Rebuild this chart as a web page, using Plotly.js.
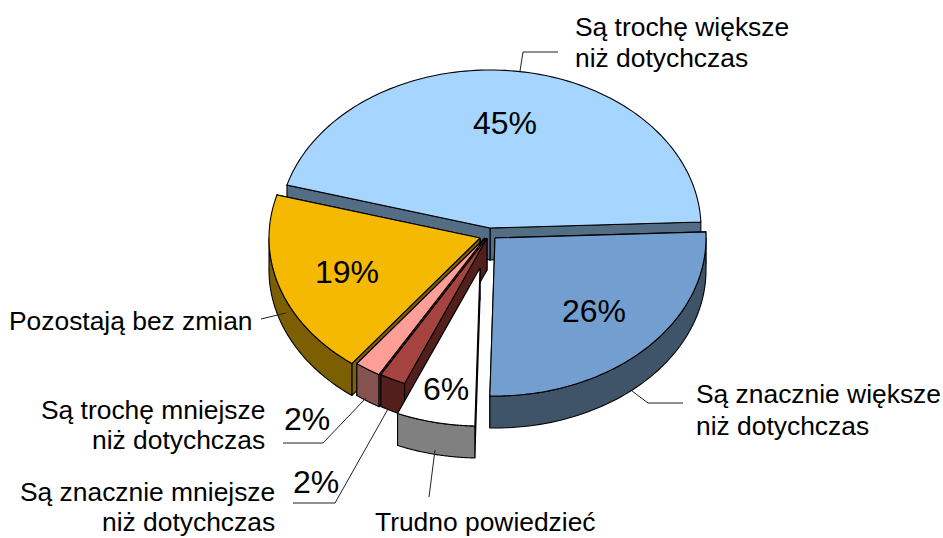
<!DOCTYPE html>
<html>
<head>
<meta charset="utf-8">
<script src="https://cdn.plot.ly/plotly-3.0.1.min.js"></script>
<style>html,body{margin:0;padding:0;background:#fff}#chart{width:943px;height:538px}</style>
</head>
<body>
<div id="chart"></div>
<script>
// Data (clockwise from the first slice)
const categories = ["Są trochę większe niż dotychczas","Są znacznie większe niż dotychczas","Trudno powiedzieć","Są znacznie mniejsze niż dotychczas","Są trochę mniejsze niż dotychczas","Pozostają bez zmian"];
const shares = [45, 26, 6, 2, 2, 19];
const percentLabels = ["45%","26%","6%","2%","2%","19%"];

// Styling / projection
const topColors  = ["#A6D5FF","#729FCF","#FFFFFF","#A5433F","#FF9E96","#F4B900"];
const wallColors = ["#536D85","#3F5469","#808080","#521F1D","#855350","#7B5F00"];
const apexX = [490, 495, 480, 487, 485, 480];
const apexY = [228, 238, 268, 238, 238, 238];
const percentX = [505, 594, 446, 316, 307, 347];
const percentY = [123, 311, 389, 482, 419, 272];
const drawOrder = [0, 5, 4, 3, 1, 2];
const startAngle = 285.8, radiusX = 211, radiusY = 158, depth = 32;

const textLines = [
  ["Są trochę większe", 575, 27, "left"], ["niż dotychczas", 575, 58, "left"],
  ["Są znacznie większe", 696, 394, "left"], ["niż dotychczas", 696, 426, "left"],
  ["Pozostają bez zmian", 253, 321, "right"],
  ["Są trochę mniejsze", 265, 410, "right"], ["niż dotychczas", 265, 440, "right"],
  ["Są znacznie mniejsze", 275, 492, "right"], ["niż dotychczas", 275, 522, "right"],
  ["Trudno powiedzieć", 375, 522, "left"]
];
const leaders = [
  [[520,71],[523,52],[558,52]],
  [[632,391],[648,403],[683,403]],
  [[286,313],[261,319]],
  [[366,398],[323,443],[283,443]],
  [[388,409],[335,503],[293,503]],
  [[435,450],[429,497]]
];

const total = shares.reduce((a,b)=>a+b,0);
const rad = d => d*Math.PI/180;
const px = (i,t) => apexX[i] + radiusX*Math.sin(rad(t));
const py = (i,t) => apexY[i] - radiusY*Math.cos(rad(t));

function poly(xs, ys, fill, name) {
  return {type:"scatter", mode:"lines", x:xs.concat(xs[0]), y:ys.concat(ys[0]), fill:"toself",
    fillcolor:fill, line:{color:"#000", width:1.1, simplify:false}, hoverinfo:"text", text:name, showlegend:false};
}

const bounds = [];
let acc = startAngle;
shares.forEach(v => { const s = acc; acc += v/total*360; bounds.push([s, acc]); });

const traces = [];
drawOrder.forEach(i => {
  const [t1, t2] = bounds[i];
  const wall = wallColors[i], name = categories[i];
  // radial cut walls
  [t2, t1].forEach(t => {
    traces.push(poly([apexX[i], px(i,t), px(i,t), apexX[i]],
                     [apexY[i], py(i,t), py(i,t)+depth, apexY[i]+depth], wall, name));
  });
  // outer rim wall: only the front half of the ellipse is visible
  const from = Math.max(t1 % 360, 90), to = Math.min(t2 > 360 && t1 < 360 ? 90 : t2 % 360 || 360, 270);
  if (to > from) {
    const ax = [], ay = [], bx = [], by = [];
    for (let k = 0; k <= 60; k++) {
      const t = from + (to-from)*k/60;
      ax.push(px(i,t)); ay.push(py(i,t));
      bx.unshift(px(i,t)); by.unshift(py(i,t)+depth);
    }
    traces.push(poly(ax.concat(bx), ay.concat(by), wall, name));
  }
  // top face
  const xs = [apexX[i]], ys = [apexY[i]];
  for (let k = 0; k <= 120; k++) {
    const t = t1 + (t2-t1)*k/120;
    xs.push(px(i,t)); ys.push(py(i,t));
  }
  traces.push(poly(xs, ys, topColors[i], name));
});

leaders.forEach(l => traces.push({type:"scatter", mode:"lines", x:l.map(p=>p[0]), y:l.map(p=>p[1]),
  line:{color:"#222", width:1}, hoverinfo:"skip", showlegend:false}));

const font = "Liberation Sans, Arial, sans-serif";
const annotations = [];
textLines.forEach(([text,x,y,anchor]) => annotations.push({text, x, y, xref:"x", yref:"y", xanchor:anchor, yanchor:"middle",
  showarrow:false, borderpad:0, borderwidth:0, font:{family:font, size:26.4, color:"#000"}}));
percentLabels.forEach((text,i) => annotations.push({text, x:percentX[i], y:percentY[i], xref:"x", yref:"y", xanchor:"center", yanchor:"middle",
  showarrow:false, borderpad:0, borderwidth:0, font:{family:font, size:32, color:"#000"}}));

const hidden = {visible:false, fixedrange:true};
Plotly.newPlot("chart", traces, {
  width:943, height:538, margin:{l:0,r:0,t:0,b:0},
  paper_bgcolor:"#fff", plot_bgcolor:"#fff", showlegend:false,
  xaxis:Object.assign({range:[0,943]}, hidden),
  yaxis:Object.assign({range:[538,0]}, hidden),
  annotations
}, {displayModeBar:false, staticPlot:true});
</script>
</body>
</html>
